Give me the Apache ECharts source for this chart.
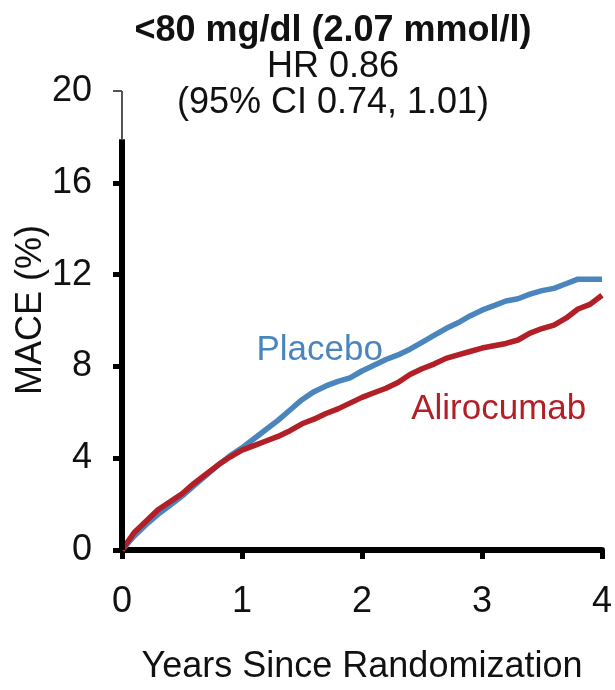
<!DOCTYPE html>
<html>
<head>
<meta charset="utf-8">
<title>MACE by LDL-C subgroup</title>
<script src="https://cdn.jsdelivr.net/npm/echarts@6.0.0/dist/echarts.min.js"></script>
<style>
  html, body { margin: 0; padding: 0; background: #fff; }
  #chart { width: 615px; height: 690px; }
</style>
</head>
<body>
<div id="chart"></div>
<script>
// Cumulative MACE incidence (%) by years since randomization
const years = [0, 0.1, 0.2, 0.3, 0.4, 0.5, 0.6, 0.7, 0.8, 0.9,
               1.0, 1.1, 1.2, 1.3, 1.4, 1.5, 1.6, 1.7, 1.8, 1.9,
               2.0, 2.1, 2.2, 2.3, 2.4, 2.5, 2.6, 2.7, 2.8, 2.9,
               3.0, 3.1, 3.2, 3.3, 3.4, 3.5, 3.6, 3.7, 3.8, 3.9, 4.0];
const placebo = [0, 0.6, 1.1, 1.55, 1.95, 2.35, 2.8, 3.25, 3.7, 4.1,
                 4.45, 4.85, 5.25, 5.65, 6.1, 6.55, 6.9, 7.15, 7.35, 7.5,
                 7.8, 8.05, 8.3, 8.5, 8.75, 9.05, 9.35, 9.65, 9.9, 10.2,
                 10.45, 10.65, 10.85, 10.95, 11.15, 11.3, 11.4, 11.6, 11.8, 11.8, 11.8];
const alirocumab = [0, 0.75, 1.25, 1.75, 2.1, 2.45, 2.9, 3.3, 3.7, 4.05,
                    4.35, 4.55, 4.75, 4.95, 5.2, 5.5, 5.7, 5.95, 6.15, 6.4,
                    6.65, 6.85, 7.05, 7.3, 7.65, 7.9, 8.1, 8.35, 8.5, 8.65,
                    8.8, 8.9, 9.0, 9.15, 9.45, 9.65, 9.8, 10.1, 10.5, 10.7, 11.1];
const xTicks = [0, 1, 2, 3, 4];
const yTicks = [0, 4, 8, 12, 16, 20];
const titleLines = ['<80 mg/dl (2.07 mmol/l)', 'HR 0.86', '(95% CI 0.74, 1.01)'];

const FONT = '"Liberation Sans", Arial, sans-serif';
const BLUE = '#4a86bd';
const RED = '#b31f27';
const INK = '#111';

const chart = echarts.init(document.getElementById('chart'));

const pairs = (xs, ys) => xs.map((x, i) => [x, ys[i]]);

chart.setOption({
  animation: false,
  backgroundColor: '#fff',
  title: titleLines.map((t, i) => ({
    text: t,
    left: 333,
    top: 13 + i * 36,
    textAlign: 'center',
    padding: 0,
    textStyle: {
      fontFamily: FONT,
      fontSize: 36,
      lineHeight: 36,
      fontWeight: i === 0 ? 'bold' : 'normal',
      color: INK
    }
  })),
  grid: { left: 122, right: 11, top: 91, bottom: 119, containLabel: false },
  xAxis: {
    type: 'value',
    min: xTicks[0],
    max: xTicks[xTicks.length - 1],
    interval: 1,
    name: 'Years Since Randomization',
    nameLocation: 'middle',
    nameGap: 99,
    nameTextStyle: { fontFamily: FONT, fontSize: 36, color: INK },
    axisLine: { show: true, onZero: false, lineStyle: { color: '#000', width: 6 } },
    axisTick: { show: true, length: 9, lineStyle: { color: '#000', width: 5 } },
    axisLabel: { fontFamily: FONT, fontSize: 36, color: INK, margin: 34 },
    splitLine: { show: false }
  },
  yAxis: [{
    type: 'value',
    min: yTicks[0],
    max: yTicks[yTicks.length - 1],
    interval: 4,
    axisLine: { show: false },
    axisTick: {
      show: true, length: 9, customValues: yTicks.slice(0, -1),
      lineStyle: { color: '#000', width: 5 }
    },
    axisLabel: { fontFamily: FONT, fontSize: 36, color: INK, margin: 30, padding: [8, 0, 0, 0] },
    splitLine: { show: false }
  }, {
    // thin tick at the top of the scale
    type: 'value',
    position: 'left',
    min: yTicks[0],
    max: yTicks[yTicks.length - 1],
    interval: 4,
    axisLine: { show: false },
    axisTick: {
      show: true, length: 9, customValues: [yTicks[yTicks.length - 1]],
      lineStyle: { color: '#555', width: 2 }
    },
    axisLabel: { show: false },
    splitLine: { show: false }
  }],
  series: [{
    name: 'Placebo',
    type: 'line',
    data: pairs(years, placebo),
    showSymbol: false,
    symbol: 'none',
    clip: false,
    lineStyle: { color: BLUE, width: 5.5 },
    itemStyle: { color: BLUE },
    z: 3,
    markLine: {
      silent: true,
      symbol: 'none',
      label: { show: false },
      data: [
        [{ coord: [0, 0], lineStyle: { color: '#000', width: 6, type: 'solid' } }, { coord: [0, 17.9] }],
        [{ coord: [0, 17.9], lineStyle: { color: '#555', width: 2, type: 'solid' } }, { coord: [0, 20] }]
      ]
    }
  }, {
    name: 'Alirocumab',
    type: 'line',
    data: pairs(years, alirocumab),
    showSymbol: false,
    symbol: 'none',
    clip: false,
    lineStyle: { color: RED, width: 5.5 },
    itemStyle: { color: RED },
    z: 4
  }]
});

// Axis name and series name labels placed next to their curves
const placeAt = (coord) => chart.convertToPixel({ gridIndex: 0 }, coord);
const pLab = placeAt([1.12, 7.95]);
const aLab = placeAt([2.41, 5.37]);
chart.setOption({
  graphic: [{
    type: 'text',
    x: 31, y: 310,
    rotation: Math.PI / 2,
    style: { text: 'MACE (%)', font: '36px ' + FONT, fill: INK, textAlign: 'center', textVerticalAlign: 'middle' }
  }, {
    type: 'text',
    x: pLab[0], y: pLab[1],
    style: { text: 'Placebo', font: '35px ' + FONT, fill: BLUE, textAlign: 'left', textVerticalAlign: 'bottom' }
  }, {
    type: 'text',
    x: aLab[0], y: aLab[1],
    style: { text: 'Alirocumab', font: '35px ' + FONT, fill: RED, textAlign: 'left', textVerticalAlign: 'bottom' }
  }]
}, { replaceMerge: ['graphic'] });
</script>
</body>
</html>
